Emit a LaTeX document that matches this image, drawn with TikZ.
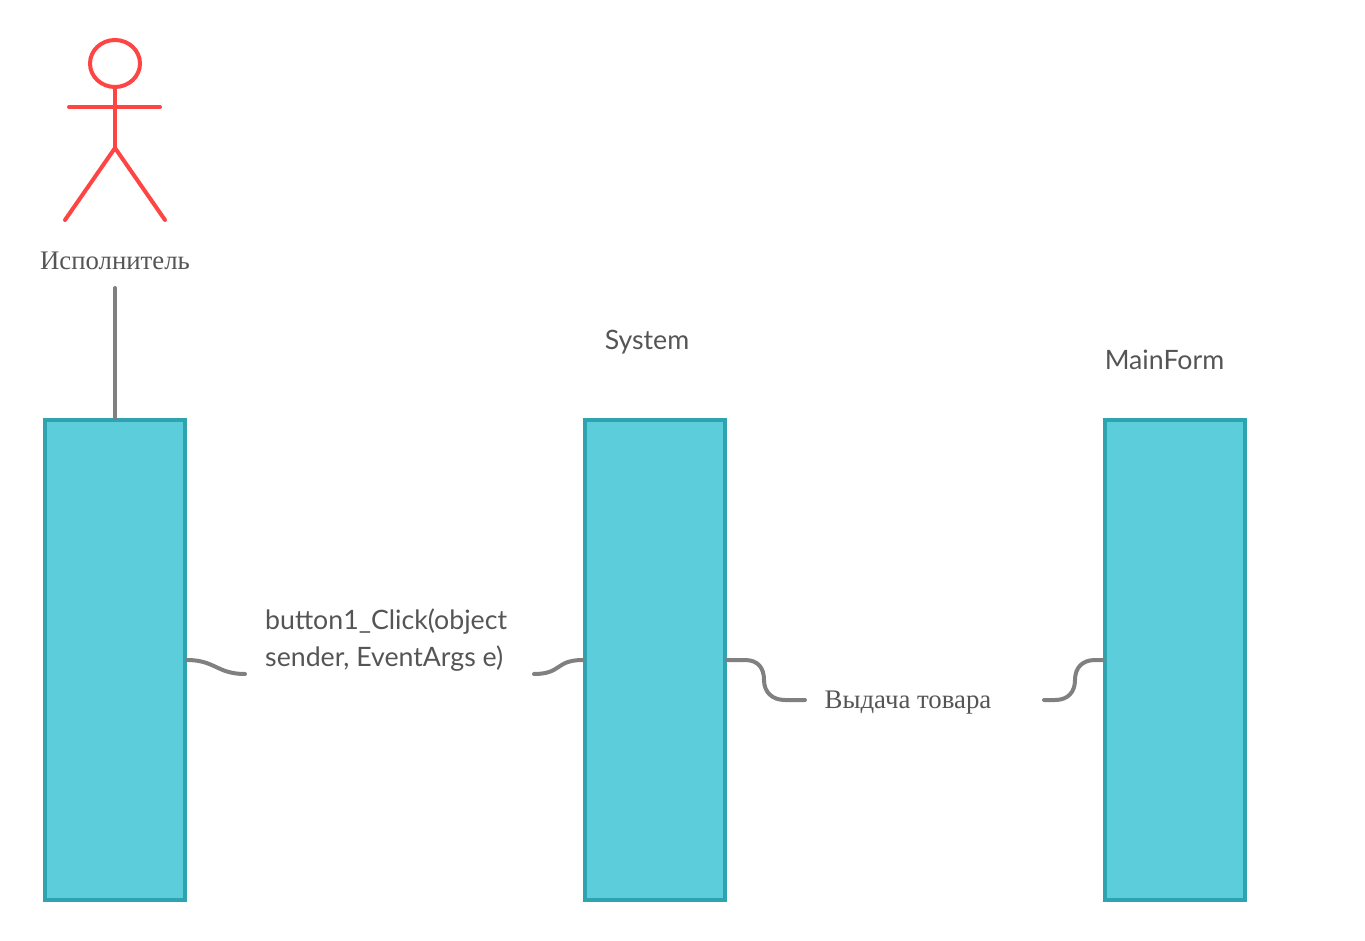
\documentclass[tikz,border=0pt]{standalone}
\usepackage{fontspec}
\setmainfont{Lato}
\newfontfamily\serifcyr{Liberation Serif}
\usepackage{xcolor}
\usetikzlibrary{shapes.geometric, positioning, calc}
\definecolor{barfill}{HTML}{5BCDDB}
\definecolor{barline}{HTML}{2FA4B1}
\definecolor{actorred}{HTML}{FF4444}
\definecolor{wiregray}{HTML}{808080}
\definecolor{textgray}{HTML}{555555}
\tikzstyle{lifebar} = [rectangle, draw=barline, fill=barfill, line width=4pt, minimum width=140pt, minimum height=480pt, inner sep=0pt]
\tikzstyle{actorline} = [draw=actorred, line width=4pt, line cap=round]
\tikzstyle{wire} = [draw=wiregray, line width=4pt, line cap=round]
\tikzstyle{sanslabel} = [font=\fontsize{26.7}{37}\selectfont, text=textgray, inner sep=0pt]
\tikzstyle{seriflabel} = [font=\serifcyr\fontsize{26.8}{30}\selectfont, text=textgray, inner sep=0pt]

\begin{document}
\begin{tikzpicture}[x=1pt, y=-1pt]
        \useasboundingbox (0,0) rectangle (1365,941);

        % Bars
        \node (userbar) [lifebar] at (115,660) {};
        \node (systembar) [lifebar] at (655,660) {};
        \node (formbar) [lifebar] at (1175,660) {};

        % Actor
        \node (head) [ellipse, actorline, minimum width=50pt, minimum height=47pt, inner sep=0pt] at (115,63.5) {};
        \coordinate (hip) at (115,148);
        \coordinate (armleft) at (69,107);
        \coordinate (armright) at (160,107);
        \coordinate (footleft) at (65,220);
        \coordinate (footright) at (165,220);
        \draw [actorline] (head.south) -- (hip);
        \draw [actorline] (armleft) -- (armright);
        \draw [actorline] (footleft) -- (hip) -- (footright);

        % Labels
        \node (actorlabel) [seriflabel] at (115,261) {Исполнитель};
        \node (systemlabel) [sanslabel] at (647,342) {System};
        \node (formlabel) [sanslabel] at (1164.5,360) {MainForm};
        \node (clicklabel) [sanslabel, align=left, anchor=west] at (265,640) {button1\_Click(object\\sender, EventArgs e)};
        \node (issuelabel) [seriflabel] at (908,703) {Выдача товара};

        % Free ends
        \coordinate (lifetop) at (115,288);
        \coordinate (clickin) at (245,674);
        \coordinate (clickout) at (534,674);
        \coordinate (issuein) at (805,700);
        \coordinate (issueout) at (1044,700);

        % Connectors
        \draw [wire] (lifetop) -- (userbar.north);
        \draw [wire] (userbar.east) .. controls +(28,0) and +(-28,0) .. (clickin);
        \draw [wire] (clickout) .. controls +(28,0) and +(-28,0) .. (systembar.west);
        \draw [wire] (systembar.east) -- (745,660) .. controls (758,660) and (764,668) .. (764,680) .. controls (764,692) and (772,700) .. (785,700) -- (issuein);
        \draw [wire] (issueout) -- (1055,700) .. controls (1068,700) and (1075,692) .. (1075,680) .. controls (1075,668) and (1082,660) .. (1095,660) -- (formbar.west);
\end{tikzpicture}
\end{document}
